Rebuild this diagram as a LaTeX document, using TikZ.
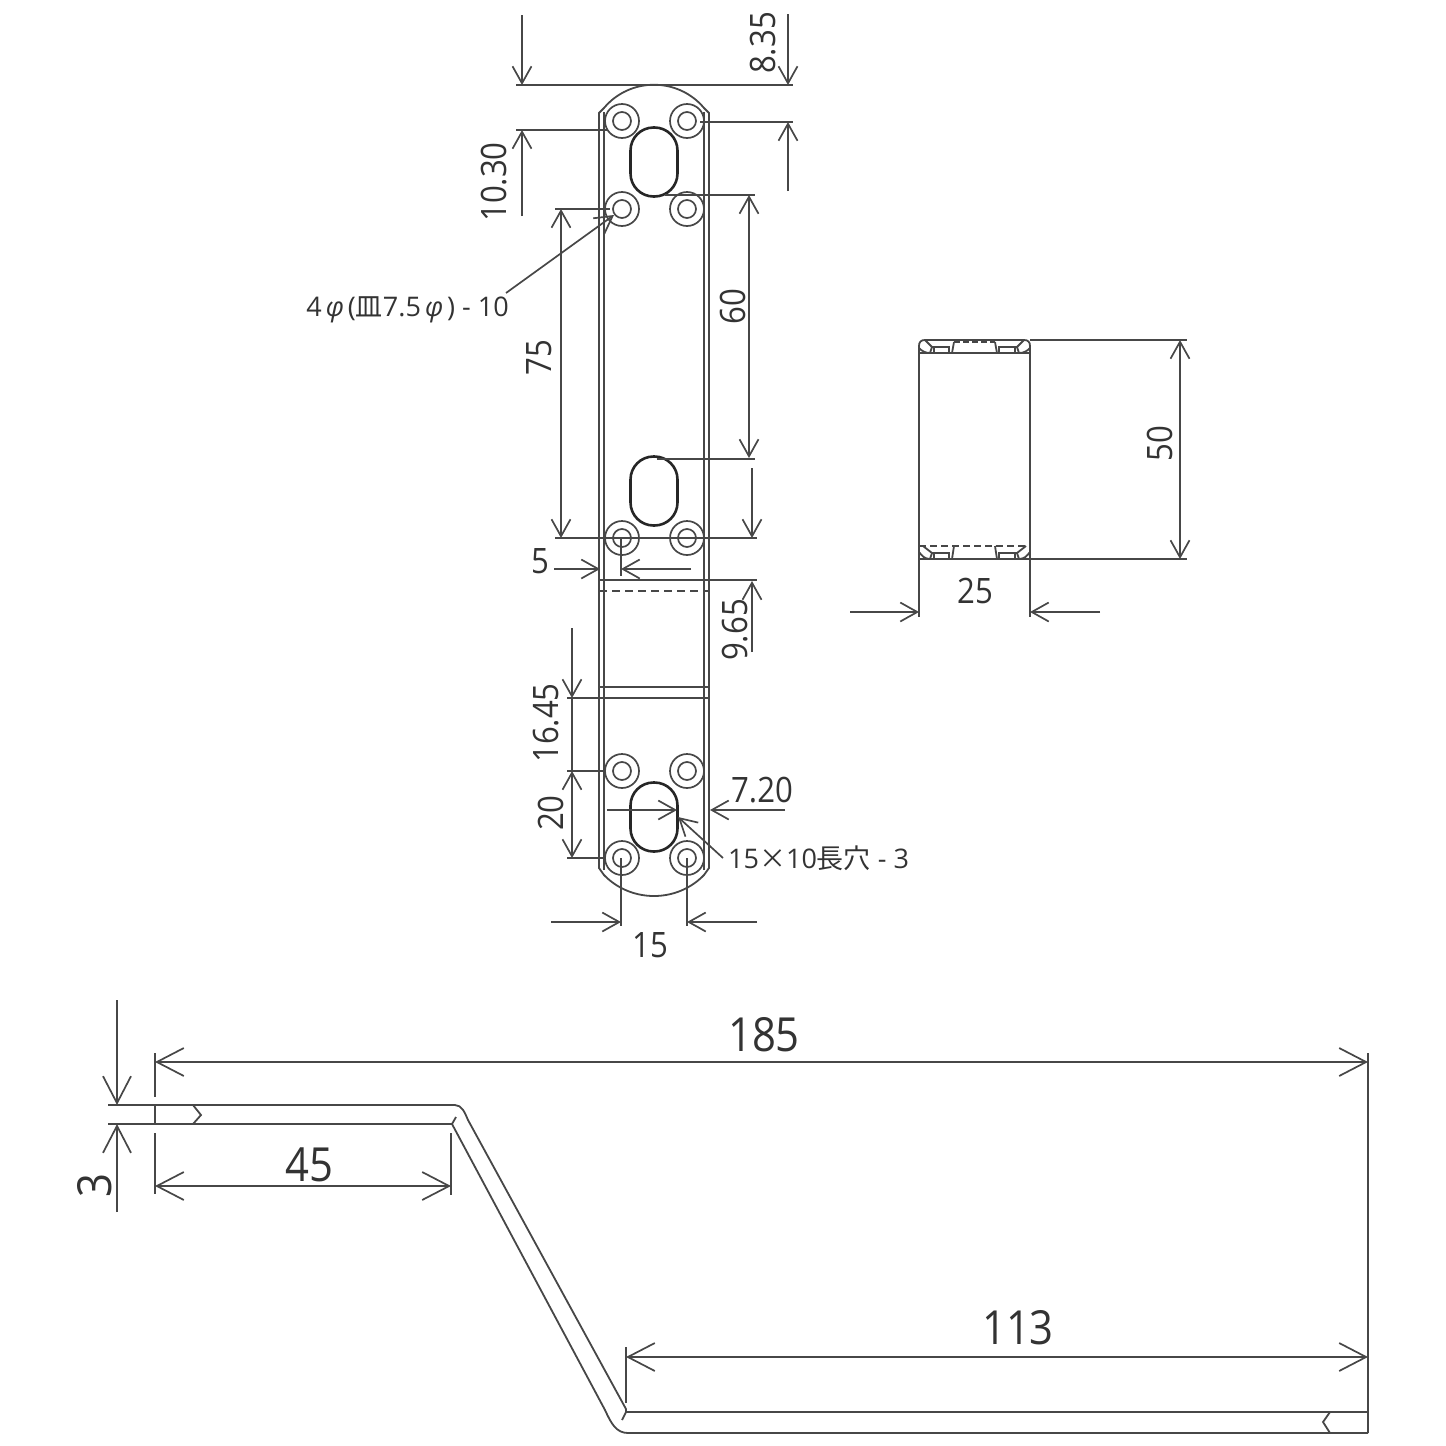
\documentclass[tikz,border=0pt]{standalone}
\usepackage{fontspec}
\usepackage{tikz}
\usetikzlibrary{arrows.meta}
\setmainfont[FakeStretch=0.89]{Open Sans}
\newfontfamily\notefont{Open Sans}
\newfontfamily\cjk{Noto Sans CJK JP}
\definecolor{inkline}{gray}{0.28}
\definecolor{inktext}{gray}{0.2}
\begin{document}
\begin{tikzpicture}[x=1pt,y=-1pt,
    >={Straight Barb[length=17pt,width=19pt]},
    bigtip/.style={>={Straight Barb[length=27pt,width=28pt]}},
    part/.style={draw=inkline,line width=1.8pt},
    dimline/.style={draw=inkline,line width=1.7pt},
    hole/.style={circle,draw=inkline,line width=1.7pt,inner sep=0pt,minimum size=34pt,
      path picture={\draw[inkline,line width=1.7pt] (path picture bounding box.center) circle (9pt);}},
    slot/.style={draw=black!85,line width=2.6pt,inner sep=0pt,minimum width=47pt,minimum height=69pt,rounded corners=23pt},
    num/.style={text=inktext,inner sep=0pt,font=\fontsize{35}{35}\selectfont},
    bignum/.style={text=inktext,inner sep=0pt,font=\fontsize{47}{47}\selectfont},
    note/.style={text=inktext,inner sep=0pt,font=\notefont\fontsize{27}{27}\selectfont}]
  \useasboundingbox (0,0) rectangle (1446,1446);

  \draw[part] (604,870) -- (604,112);
  \draw[part] (704,870) -- (704,112);
  \draw[part] (599,868) -- (599,113) -- (604,108) .. controls (630,77) and (678,77) .. (704,108) -- (709,113) -- (709,868)
    -- (704,875) .. controls (677,903) and (631,903) .. (604,875) -- cycle;
  \draw[part] (599,580) -- (709,580);
  \draw[part,dashed,dash pattern=on 8pt off 5pt] (599,591) -- (709,591);
  \draw[part] (599,687) -- (709,687);
  \draw[part] (599,698) -- (709,698);

  \node[hole] (h1) at (622,121) {};
  \node[hole] (h2) at (687,121) {};
  \node[hole] (h3) at (622,209) {};
  \node[hole] (h4) at (687,209) {};
  \node[hole] (h5) at (622,538) {};
  \node[hole] (h6) at (687,538) {};
  \node[hole] (h7) at (622,771) {};
  \node[hole] (h8) at (687,771) {};
  \node[hole] (h9) at (622,858) {};
  \node[hole] (h10) at (687,858) {};
  \node[slot] (s1) at (654,162) {};
  \node[slot] (s2) at (654,491) {};
  \node[slot] (s3) at (654,817) {};

  \coordinate (a1) at (516,85);
  \coordinate (a2) at (793,85);
  \draw[dimline] (a1) -- (a2);
  \coordinate (b1) at (788,14);
  \coordinate (b2) at (788,85);
  \coordinate (b3) at (788,122);
  \coordinate (b4) at (788,191);
  \draw[dimline,->] (b1) -- (b2);
  \draw[dimline,->] (b4) -- (b3);
  \coordinate (c1) at (700,122);
  \coordinate (c2) at (793,122);
  \draw[dimline] (c1) -- (c2);
  \coordinate (d1) at (522,15);
  \coordinate (d2) at (522,85);
  \coordinate (d3) at (522,130);
  \coordinate (d4) at (522,216);
  \draw[dimline,->] (d1) -- (d2);
  \draw[dimline,->] (d4) -- (d3);
  \coordinate (e1) at (516,130);
  \coordinate (e2) at (608,130);
  \draw[dimline] (e1) -- (e2);
  \node[num,rotate=90] (t835) at (763,43) {8.35};
  \node[num,rotate=90] (t1030) at (494,182) {10.30};

  \coordinate (f1) at (749,195);
  \coordinate (f2) at (749,458);
  \draw[dimline,<->] (f1) -- (f2);
  \coordinate (f3) at (665,195);
  \coordinate (f4) at (755,195);
  \draw[dimline] (f3) -- (f4);
  \coordinate (f5) at (657,459);
  \coordinate (f6) at (755,459);
  \draw[dimline] (f5) -- (f6);
  \node[num,rotate=90] (t60) at (733,307) {60};

  \coordinate (g1) at (561,209);
  \coordinate (g2) at (561,538);
  \draw[dimline,<->] (g1) -- (g2);
  \coordinate (g3) at (555,209);
  \coordinate (g4) at (610,209);
  \draw[dimline] (g3) -- (g4);
  \coordinate (g5) at (555,538);
  \coordinate (g6) at (757,538);
  \draw[dimline] (g5) -- (g6);
  \node[num,rotate=90] (t75) at (539,358) {75};

  \coordinate (i1) at (752,468);
  \coordinate (i2) at (752,538);
  \coordinate (i3) at (752,581);
  \coordinate (i4) at (752,652);
  \draw[dimline,->] (i1) -- (i2);
  \draw[dimline,->] (i4) -- (i3);
  \coordinate (i5) at (638,580);
  \coordinate (i6) at (757,580);
  \draw[dimline] (i5) -- (i6);
  \node[num,rotate=90] (t965) at (735,630) {9.65};

  \coordinate (j1) at (554,569);
  \coordinate (j2) at (600,569);
  \coordinate (j3) at (621,569);
  \coordinate (j4) at (691,569);
  \draw[dimline,->] (j1) -- (j2);
  \draw[dimline,->] (j4) -- (j3);
  \coordinate (j5) at (621,538);
  \coordinate (j6) at (621,576);
  \draw[dimline] (j5) -- (j6);
  \node[num] (t5) at (540,561) {5};

  \coordinate (k1) at (572,628);
  \coordinate (k2) at (572,698);
  \coordinate (k3) at (572,771);
  \coordinate (k4) at (572,858);
  \draw[dimline,->] (k1) -- (k2);
  \draw[dimline] (k2) -- (k3);
  \draw[dimline,<->] (k3) -- (k4);
  \coordinate (k5) at (567,698);
  \coordinate (k6) at (600,698);
  \draw[dimline] (k5) -- (k6);
  \coordinate (k7) at (567,771);
  \coordinate (k8) at (606,771);
  \draw[dimline] (k7) -- (k8);
  \coordinate (k9) at (567,858);
  \coordinate (k10) at (605,858);
  \draw[dimline] (k9) -- (k10);
  \node[num,rotate=90] (t1645) at (546,723) {16.45};
  \node[num,rotate=90] (t20) at (551,813) {20};

  \coordinate (l1) at (607,810);
  \coordinate (l2) at (677,810);
  \coordinate (l3) at (710,810);
  \coordinate (l4) at (785,810);
  \draw[dimline,->] (l1) -- (l2);
  \draw[dimline,->] (l4) -- (l3);
  \node[num] (t720) at (762,790) {7.20};

  \node[note,anchor=west] (n2) at (728,858) {15{\cjk ×}10{\cjk 長穴} - 3};
  \coordinate (m1) at (723,858);
  \coordinate (m2) at (678,817);
  \draw[dimline,->] (m1) -- (m2);
  \node[note,anchor=east] (n1) at (509,310) {4\hspace{4pt}{\itshape φ}\hspace{4pt}({\cjk 皿}7.5\hspace{4pt}{\itshape φ}\hspace{4pt}) - 10};
  \coordinate (m3) at (506,293);
  \coordinate (m4) at (614,215);
  \draw[dimline,->] (m3) -- (m4);

  \coordinate (o1) at (621,858);
  \coordinate (o2) at (621,926);
  \coordinate (o3) at (687,858);
  \coordinate (o4) at (687,926);
  \draw[dimline] (o1) -- (o2);
  \draw[dimline] (o3) -- (o4);
  \coordinate (o5) at (551,922);
  \coordinate (o6) at (621,922);
  \coordinate (o7) at (687,922);
  \coordinate (o8) at (757,922);
  \draw[dimline,->] (o5) -- (o6);
  \draw[dimline,->] (o8) -- (o7);
  \node[num] (t15) at (650,945) {15};

  \draw[part] (919,559) -- (919,346) .. controls (919,342) and (921,340) .. (925,340) -- (1024,340) .. controls (1028,340) and (1030,342) .. (1030,346) -- (1030,559) -- cycle;
  \draw[part] (919,353) -- (1030,353);
  \draw[part] (925,340) -- (932,347) -- (930,353);
  \draw[part] (919,348) .. controls (922,351) and (925,353) .. (930,353);
  \draw[part] (1024,340) -- (1017,347) -- (1019,353);
  \draw[part] (1030,348) .. controls (1027,351) and (1024,353) .. (1019,353);
  \draw[part] (932,347) -- (950,347);
  \draw[part] (934,347) -- (934,353);
  \draw[part] (949,347) -- (949,353);
  \draw[part] (1017,347) -- (998,347);
  \draw[part] (1015,347) -- (1015,353);
  \draw[part] (999,347) -- (999,353);
  \draw[part] (952,353) -- (954,342);
  \draw[part] (997,353) -- (995,342);
  \draw[part,dashed,dash pattern=on 6pt off 3pt] (954,342) -- (995,342);

  \draw[part] (919,559) -- (1030,559);
  \draw[part,dashed,dash pattern=on 7pt off 4pt] (919,546) -- (1030,546);
  \draw[part] (923,546) -- (932,553) -- (930,559);
  \draw[part] (919,552) .. controls (922,556) and (925,559) .. (930,559);
  \draw[part] (1026,546) -- (1017,553) -- (1019,559);
  \draw[part] (1030,552) .. controls (1027,556) and (1024,559) .. (1019,559);
  \draw[part] (932,553) -- (950,553);
  \draw[part] (934,553) -- (934,559);
  \draw[part] (949,553) -- (949,559);
  \draw[part] (1017,553) -- (998,553);
  \draw[part] (1015,553) -- (1015,559);
  \draw[part] (999,553) -- (999,559);
  \draw[part] (952,559) -- (954,546);
  \draw[part] (997,559) -- (995,546);

  \coordinate (p1) at (1030,340);
  \coordinate (p2) at (1187,340);
  \coordinate (p3) at (1030,559);
  \coordinate (p4) at (1187,559);
  \draw[dimline] (p1) -- (p2);
  \draw[dimline] (p3) -- (p4);
  \coordinate (p5) at (1180,340);
  \coordinate (p6) at (1180,559);
  \draw[dimline,<->] (p5) -- (p6);
  \node[num,rotate=90] (t50) at (1160,444) {50};
  \coordinate (q1) at (919,559);
  \coordinate (q2) at (919,617);
  \coordinate (q3) at (1030,559);
  \coordinate (q4) at (1030,617);
  \draw[dimline] (q1) -- (q2);
  \draw[dimline] (q3) -- (q4);
  \coordinate (q5) at (850,612);
  \coordinate (q6) at (919,612);
  \coordinate (q7) at (1030,612);
  \coordinate (q8) at (1100,612);
  \draw[dimline,->] (q5) -- (q6);
  \draw[dimline,->] (q8) -- (q7);
  \node[num] (t25) at (975,591) {25};

  \draw[part] (108,1105) -- (455,1105) .. controls (462,1105) and (465,1113) .. (468,1120) -- (626,1409) -- (626,1412) -- (1368,1412);
  \draw[part] (108,1124) -- (452,1124) -- (605,1410) .. controls (611,1423) and (616,1433) .. (628,1433) -- (1368,1433);
  \draw[part] (452,1124) -- (456,1117);
  \draw[part] (626,1412) -- (622,1420);
  \draw[part] (193,1105) -- (201,1115) -- (193,1124);
  \draw[part] (1330,1412) -- (1323,1422) -- (1330,1433);

  \coordinate (r1) at (117,1000);
  \coordinate (r2) at (117,1105);
  \coordinate (r3) at (117,1124);
  \coordinate (r4) at (117,1212);
  \draw[dimline,bigtip,->] (r1) -- (r2);
  \draw[dimline,bigtip,->] (r4) -- (r3);
  \node[bignum,rotate=90] (t3) at (95,1186) {3};

  \coordinate (u1) at (155,1053);
  \coordinate (u2) at (155,1097);
  \coordinate (u3) at (155,1105);
  \coordinate (u4) at (155,1124);
  \coordinate (u5) at (155,1133);
  \coordinate (u6) at (155,1194);
  \draw[dimline] (u1) -- (u2);
  \draw[dimline] (u3) -- (u4);
  \draw[dimline] (u5) -- (u6);
  \coordinate (v1) at (155,1062);
  \coordinate (v2) at (1368,1062);
  \draw[dimline,bigtip,<->] (v1) -- (v2);
  \node[bignum] (t185) at (764,1035) {185};
  \coordinate (w1) at (155,1186);
  \coordinate (w2) at (451,1186);
  \draw[dimline,bigtip,<->] (w1) -- (w2);
  \coordinate (w3) at (451,1133);
  \coordinate (w4) at (451,1195);
  \draw[dimline] (w3) -- (w4);
  \node[bignum] (t45) at (309,1165) {45};
  \coordinate (y1) at (626,1357);
  \coordinate (y2) at (1368,1357);
  \draw[dimline,bigtip,<->] (y1) -- (y2);
  \coordinate (y3) at (626,1347);
  \coordinate (y4) at (626,1403);
  \draw[dimline] (y3) -- (y4);
  \node[bignum] (t113) at (1018,1328) {113};
  \coordinate (z1) at (1368,1053);
  \coordinate (z2) at (1368,1433);
  \draw[dimline] (z1) -- (z2);
\end{tikzpicture}
\end{document}
